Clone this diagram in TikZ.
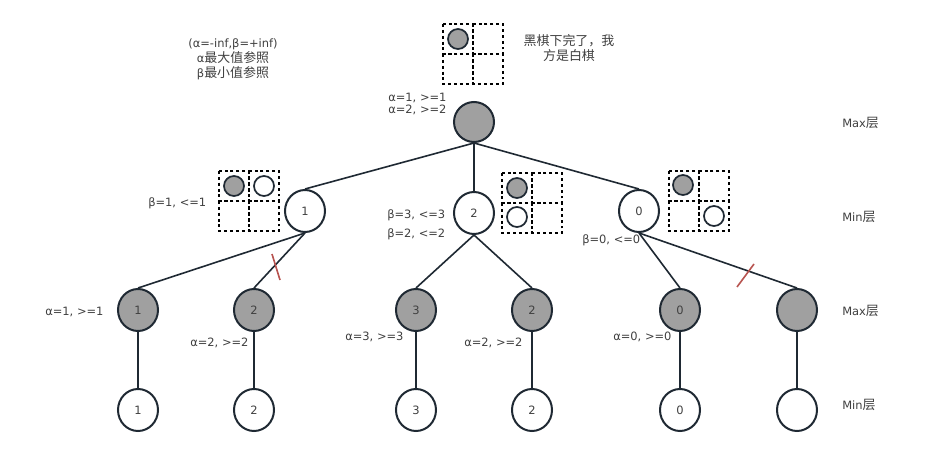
\documentclass[tikz,border=0pt]{standalone}
\usepackage{fontspec}
\setmainfont{DejaVu Sans}
\newfontfamily\cjk[Scale=1.13]{Noto Sans CJK SC}
\usetikzlibrary{shapes.geometric}
\definecolor{stk}{HTML}{1F2933}
\definecolor{gfill}{HTML}{A0A0A0}
\definecolor{txt}{HTML}{404040}
\definecolor{cut}{HTML}{B85450}
\tikzset{
  wnode/.style={ellipse,draw=stk,line width=1.5pt,fill=white,minimum width=30pt,minimum height=31.5pt,inner sep=0pt,text=txt,font=\fontsize{8.6}{11}\selectfont},
  gnode/.style={wnode,fill=gfill},
  lbl/.style={text=txt,font=\fontsize{8.6}{11.25}\selectfont,inner sep=0pt},
  edge/.style={draw=stk,line width=1.2pt},
  cell/.style={draw=black,line width=1.3pt,dash pattern=on 2.2pt off 2.2pt},
  stone/.style={circle,draw=stk,line width=1.3pt,minimum size=15pt,inner sep=0pt},
  cutmark/.style={draw=cut,line width=1.2pt}
}
\newcommand{\board}[2]{% x0 y0
  \draw[cell] (#1,#2) rectangle ++(30,30);
  \draw[cell] (#1+30,#2) rectangle ++(30,30);
  \draw[cell] (#1,#2+30) rectangle ++(30,30);
  \draw[cell] (#1+30,#2+30) rectangle ++(30,30);
}
\begin{document}
\begin{tikzpicture}[x=0.75pt,y=-0.75pt]
\useasboundingbox (0,0) rectangle (936,456);
\fill[white] (0,0) rectangle (936,456);

% boards
\board{443}{24}
\node[stone,fill=gfill] (s0) at (458,39) {};
\board{219}{171}
\node[stone,fill=gfill] (s1a) at (234,186) {};
\node[stone,fill=white] (s1b) at (264,186) {};
\board{502}{173}
\node[stone,fill=gfill] (s2a) at (517,188) {};
\node[stone,fill=white] (s2b) at (517,217) {};
\board{669}{171}
\node[stone,fill=gfill] (s3a) at (683,185) {};
\node[stone,fill=white] (s3b) at (714,216) {};

% nodes
\node[circle,draw=stk,line width=1.5pt,fill=gfill,minimum size=30pt,inner sep=0pt] (r) at (474,122) {};
\node[wnode] (m1) at (305,211) {1};
\node[wnode] (m2) at (474,213) {2};
\node[wnode] (m3) at (639,211) {0};
\node[gnode] (x1) at (138,310) {1};
\node[gnode] (x2) at (254,310) {2};
\node[gnode] (x3) at (416,310) {3};
\node[gnode] (x4) at (532,310) {2};
\node[gnode] (x5) at (680,310) {0};
\node[gnode] (x6) at (797,310) {};
\node[wnode] (n1) at (138,410) {1};
\node[wnode] (n2) at (254,410) {2};
\node[wnode] (n3) at (416,410) {3};
\node[wnode] (n4) at (532,410) {2};
\node[wnode] (n5) at (680,410) {0};
\node[wnode] (n6) at (797,410) {};

% edges
\draw[edge] (r.south) -- (m1.north);
\draw[edge] (r.south) -- (m2.north);
\draw[edge] (r.south) -- (m3.north);
\draw[edge] (m1.south) -- (x1.north);
\draw[edge] (m1.south) -- (x2.north);
\draw[edge] (m2.south) -- (x3.north);
\draw[edge] (m2.south) -- (x4.north);
\draw[edge] (m3.south) -- (x5.north);
\draw[edge] (m3.south) -- (x6.north);
\foreach \i in {1,...,6} \draw[edge] (x\i.south) -- (n\i.north);

% cut marks
\draw[cutmark] (272,254) -- (280,280);
\draw[cutmark] (754,264) -- (737,287);

% labels
\node[lbl,align=center] (note) at (233,59) {(α=-inf,β=+inf)\\α{\cjk 最大值参照}\\β{\cjk 最小值参照}};
\node[lbl,align=center] (blk) at (569,48) {\cjk 黑棋下完了，我\\\cjk 方是白棋};
\node[lbl,align=left,anchor=west] (lr) at (388,104) {α=1, >=1\\[-2pt]α=2, >=2};
\node[lbl,anchor=west] (l1) at (148,203) {β=1, <=1};
\node[lbl,anchor=west] (l2a) at (387,215) {β=3, <=3};
\node[lbl,anchor=west] (l2b) at (387,234) {β=2, <=2};
\node[lbl,anchor=west] (l3) at (582,240) {β=0, <=0};
\node[lbl,anchor=west] (a1) at (45,312) {α=1, >=1};
\node[lbl,anchor=west] (a2) at (190,343) {α=2, >=2};
\node[lbl,anchor=west] (a3) at (345,337) {α=3, >=3};
\node[lbl,anchor=west] (a4) at (464,343) {α=2, >=2};
\node[lbl,anchor=west] (a5) at (613,337) {α=0, >=0};
\node[lbl,anchor=west] (L1) at (842,123) {Max{\cjk 层}};
\node[lbl,anchor=west] (L2) at (842,217) {Min{\cjk 层}};
\node[lbl,anchor=west] (L3) at (842,311) {Max{\cjk 层}};
\node[lbl,anchor=west] (L4) at (842,405) {Min{\cjk 层}};
\end{tikzpicture}
\end{document}
